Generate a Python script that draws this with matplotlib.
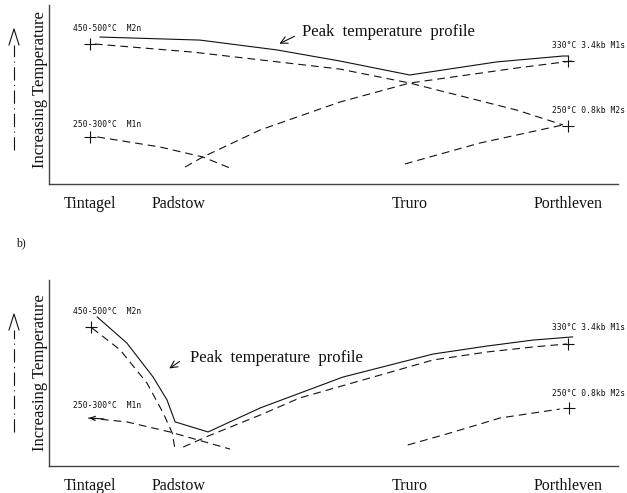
import matplotlib
matplotlib.use("Agg")
import matplotlib.pyplot as plt
from matplotlib.lines import Line2D

# ---------------- data (schematic units: distance 0-100, relative temperature 0-100) -------------
towns = ["Tintagel", "Padstow", "Truro", "Porthleven"]
town_x = [0, 18.6, 66.9, 100]

# panel a
a_peak_x = [2.1, 23.0, 39.1, 52.3, 66.9, 85.1, 99.0, 100.0]
a_peak_y = [82.1, 80.4, 74.9, 68.7, 60.9, 68.2, 71.5, 71.5]
a_m2n_x = [1.0, 21.5, 52.3, 66.9, 89.3, 99.0]
a_m2n_y = [78.2, 73.7, 64.2, 56.4, 41.3, 33.0]
a_m1s_x = [19.9, 23.6, 35.6, 52.3, 66.9, 89.3, 100.8]
a_m1s_y = [9.5, 15.1, 30.2, 45.8, 56.4, 64.8, 68.7]
a_m1n_x = [1.5, 14.6, 23.6, 29.3]
a_m1n_y = [26.3, 20.7, 15.1, 8.9]
a_m2s_x = [65.9, 81.6, 99.0]
a_m2s_y = [11.2, 22.9, 33.0]
a_cross_x = [0, 0, 100, 100]
a_cross_y = [78.2, 26.3, 68.7, 32.4]

# panel b
b_peak_x = [1.5, 7.7, 13.2, 16.1, 17.8, 24.7, 35.6, 52.9, 71.8, 83.1, 92.7, 101.0]
b_peak_y = [80.1, 66.1, 47.8, 35.5, 23.7, 18.3, 31.2, 47.8, 60.2, 64.5, 67.7, 69.4]
b_m2n_x = [0.4, 6.3, 11.9, 15.3, 17.2, 17.8]
b_m2n_y = [74.2, 62.4, 44.6, 28.5, 17.7, 8.6]
b_m1n_x = [-0.4, 7.7, 16.7, 29.3]
b_m1n_y = [25.8, 23.7, 18.3, 9.1]
b_m1s_x = [19.5, 24.7, 35.6, 43.9, 71.8, 83.1, 92.7, 99.8]
b_m1s_y = [10.2, 16.1, 27.4, 36.6, 57.0, 61.3, 64.0, 65.6]
b_m2s_x = [66.5, 75.3, 85.8, 98.3]
b_m2s_y = [11.3, 17.7, 25.8, 30.6]
b_cross_x = [0.2, 100, 100.2]
b_cross_y = [74.7, 65.6, 31.2]

labels_left = ["450-500\u00b0C  M2n", "250-300\u00b0C  M1n"]
labels_right = ["330\u00b0C 3.4kb M1s", "250\u00b0C 0.8kb M2s"]
a_lab_left_y = [86.6, 33.5]
a_lab_right_y = [77.1, 40.8]
b_lab_left_y = [82.8, 32.3]
b_lab_right_y = [74.2, 39.2]
peak_text = "Peak  temperature  profile"
ylabel = "Increasing Temperature"

# ---------------- figure ----------------
W, H = 627, 493
fig = plt.figure(figsize=(W / 100, H / 100), dpi=100)
serif = ["Liberation Serif", "DejaVu Serif"]
mono = ["DejaVu Sans Mono"]
ink = "#111111"
lw = 0.8
dash = (7, 4.5)


def make_ax(top_px, bottom_px):
    ax = fig.add_axes([49 / W, 1 - bottom_px / H, (618 - 49) / W, (bottom_px - top_px) / H])
    ax.set_xlim(-8.6, 110.5)
    ax.set_ylim(0, 100)
    for s in ["top", "right"]:
        ax.spines[s].set_visible(False)
    for s in ["left", "bottom"]:
        ax.spines[s].set_linewidth(1.0)
        ax.spines[s].set_color("#444444")
    ax.set_yticks([])
    ax.set_xticks(town_x, towns, fontfamily=serif, fontsize=11.5)
    ax.tick_params(axis="x", length=0, pad=9, colors=ink)
    return ax


def panel(ax, peak, dashed, crosses, lab_l, lab_r, peak_pos, arrow):
    ax.plot(*peak, color=ink, lw=lw, clip_on=False)
    for xs, ys in dashed:
        ax.plot(xs, ys, color=ink, lw=lw, dashes=dash, clip_on=False)
    ax.plot(*crosses, ls="none", marker="+", ms=8, mew=0.8, color=ink, clip_on=False)
    for t, y in zip(labels_left, lab_l):
        ax.text(-3.6, y, t, fontfamily=mono, fontsize=5.8, va="center", ha="left", color=ink)
    for t, y in zip(labels_right, lab_r):
        ax.text(96.7, y, t, fontfamily=mono, fontsize=5.8, va="center", ha="left", color=ink,
                clip_on=False)
    ax.text(peak_pos[0], peak_pos[1], peak_text, fontfamily=serif, fontsize=12,
            va="center", ha="left", color=ink)
    ax.annotate("", xy=arrow[1], xytext=arrow[0],
                arrowprops=dict(arrowstyle="->,head_length=0.5,head_width=0.25", lw=0.8, color=ink))


ax1 = make_ax(5, 184)
panel(ax1, (a_peak_x, a_peak_y),
      [(a_m2n_x, a_m2n_y), (a_m1s_x, a_m1s_y), (a_m1n_x, a_m1n_y), (a_m2s_x, a_m2s_y)],
      (a_cross_x, a_cross_y), a_lab_left_y, a_lab_right_y, (44.4, 84.9),
      ((43.3, 83.2), (39.1, 77.7)))

ax2 = make_ax(280, 466)
panel(ax2, (b_peak_x, b_peak_y),
      [(b_m2n_x, b_m2n_y), (b_m1s_x, b_m1s_y), (b_m1n_x, b_m1n_y), (b_m2s_x, b_m2s_y)],
      (b_cross_x, b_cross_y), b_lab_left_y, b_lab_right_y, (20.9, 58.1),
      ((19.2, 57.0), (16.1, 51.6)))
# small left-pointing arrowhead on the M1n line in panel b
ax2.annotate("", xy=(-0.8, 25.9), xytext=(3.5, 25.2),
             arrowprops=dict(arrowstyle="->,head_length=0.35,head_width=0.15", lw=0.8, color=ink))

# y labels and side arrows
for cy, y0, y1 in [(90, 150, 29), (373, 432, 314)]:
    fig.text(40 / W, 1 - cy / H, ylabel, rotation=90, fontfamily=serif, fontsize=12,
             ha="center", va="center", color=ink)
    fig.add_artist(Line2D([14 / W, 14 / W], [1 - y0 / H, 1 - (y1 + 16) / H],
                          transform=fig.transFigure, color=ink, lw=0.8, dashes=(12, 4, 1, 4)))
    fig.add_artist(Line2D([9 / W, 14 / W, 19 / W], [1 - (y1 + 16) / H, 1 - y1 / H, 1 - (y1 + 16) / H],
                          transform=fig.transFigure, color=ink, lw=0.8))

fig.text(16 / W, 1 - 243 / H, "b)", fontfamily=serif, fontsize=8.5, ha="left", va="center", color=ink)

fig.savefig("out.png", dpi=100)
